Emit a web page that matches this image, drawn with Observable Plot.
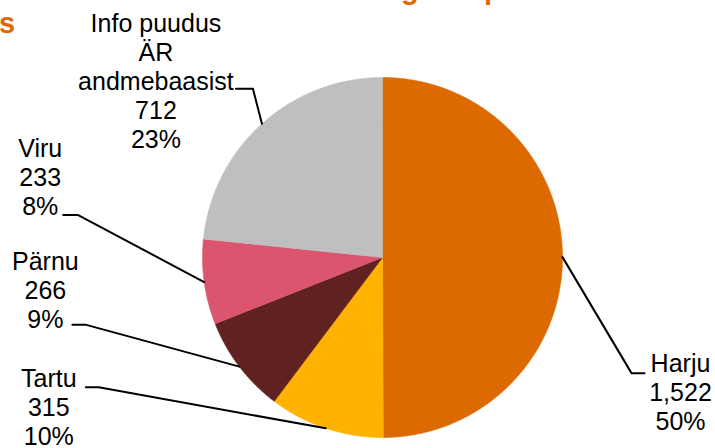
<!DOCTYPE html>
<html><head><meta charset="utf-8">
<script src="https://cdn.jsdelivr.net/npm/d3@7"></script>
<script src="https://cdn.jsdelivr.net/npm/@observablehq/plot@0.6"></script>
<style>
body{margin:0;background:#fff;}
#wrap{position:relative;width:715px;height:448px;overflow:hidden;background:#fff;}
#title{position:absolute;left:0;top:0;pointer-events:none;overflow:visible;}
</style></head><body>
<div id="wrap"><div id="chart"></div>
<svg id="title" width="715" height="60"><g font-family="Liberation Sans, Arial, sans-serif" font-weight="bold" font-size="29" fill="#DD6A00"><text x="401" y="-1">g</text><text x="484" y="-1">p</text><text x="-1" y="33">s</text></g></svg>
</div>
<script>
// Data
const categories = ["Harju", "Tartu", "Pärnu", "Viru", "Info puudus\nÄR\nandmebaasist"];
const values = [1522, 315, 266, 233, 712];
const colors = ["#DD6A00", "#FFB300", "#602121", "#DB556E", "#BFBFBF"];

// Layout (pixels): pie centre/radius and label offsets from each slice's outer midpoint
const cx = 382, cy = 257, r = 180;
const labelLayout = {
  "Harju": {ex: 69, ey: 116, hook: 13, tx: 118, ty: 173},
  "Tartu": {ex: -227, ey: -41, hook: -13, tx: -277, ty: 17},
  "Pärnu": {ex: -154, ey: -42, hook: -13, tx: -194, ty: -39},
  "Viru": {ex: -126, ey: -67, hook: -15, tx: -164, ty: -67},
  "Info puudus\nÄR\nandmebaasist": {ex: -9, ey: -35, hook: -17, tx: -106, ty: 24}
};

const total = d3.sum(values);
const fmt = d3.format(",");
let acc = 0;
const slices = categories.map((c, i) => {
  const a0 = acc / total * 2 * Math.PI;
  acc += values[i];
  const a1 = acc / total * 2 * Math.PI;
  const mid = (a0 + a1) / 2;
  const L = labelLayout[c];
  const exX = cx + r * Math.sin(mid), exY = cy - r * Math.cos(mid);
  const n = Math.max(2, Math.ceil((a1 - a0) * 180 / Math.PI * 3));
  const pts = [{x: cx, y: cy}];
  for (let k = 0; k <= n; k++) {
    const a = a0 + (a1 - a0) * k / n;
    pts.push({x: cx + r * Math.sin(a), y: cy - r * Math.cos(a)});
  }
  pts.push({x: cx, y: cy});
  return {
    category: c, value: values[i], color: colors[i],
    pct: Math.round(values[i] / total * 100),
    pts,
    leader: [
      {category: c, x: exX, y: exY},
      {category: c, x: exX + L.ex, y: exY + L.ey},
      {category: c, x: exX + L.ex + L.hook, y: exY + L.ey}
    ],
    lx: exX + L.tx, ly: exY + L.ty
  };
});

const chart = Plot.plot({
  width: 715, height: 448, margin: 0,
  x: {domain: [0, 715], range: [0, 715], axis: null},
  y: {domain: [0, 448], range: [0, 448], axis: null},
  style: {fontFamily: "Liberation Sans, Arial, sans-serif", background: "white", overflow: "visible"},
  marks: [
    ...slices.map(s => Plot.line(s.pts, {x: "x", y: "y", fill: s.color, stroke: s.color, strokeWidth: 0.6, curve: "linear"})),
    Plot.line(slices.flatMap(s => s.leader), {x: "x", y: "y", z: "category", stroke: "#000", strokeWidth: 2}),
    Plot.text(slices, {
      x: "lx", y: "ly",
      text: d => `${d.category}\n${fmt(d.value)}\n${d.pct}%`,
      textAnchor: "middle", lineAnchor: "bottom", lineHeight: 1.16,
      fontSize: 25, fill: "#000"
    })
  ]
});
document.getElementById("chart").appendChild(chart);
</script>
</body></html>
